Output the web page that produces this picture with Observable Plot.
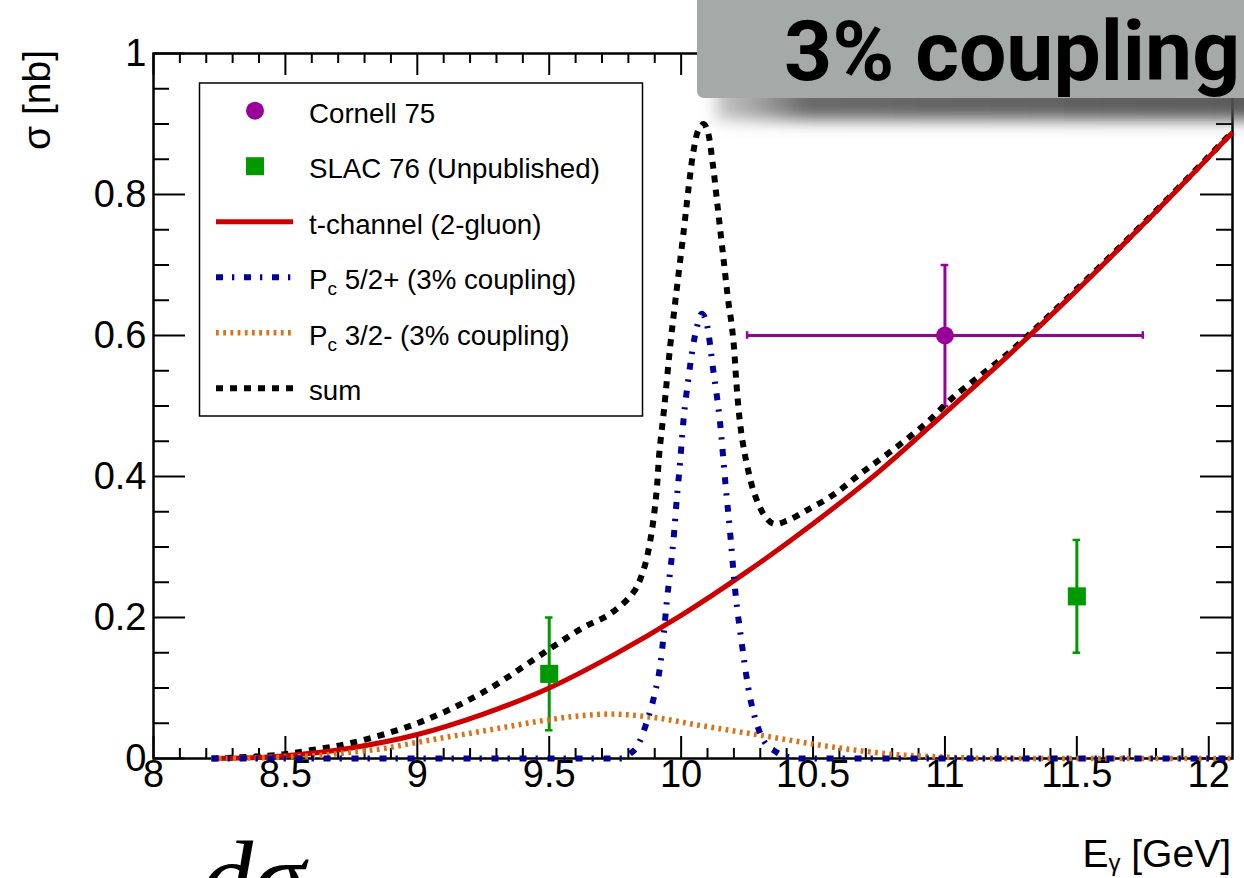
<!DOCTYPE html>
<html>
<head>
<meta charset="utf-8">
<title>Photoproduction cross section near threshold</title>
<script src="https://cdn.jsdelivr.net/npm/d3@7"></script>
<script src="https://cdn.jsdelivr.net/npm/@observablehq/plot@0.6"></script>
<style>
  html, body { margin: 0; padding: 0; background: #fff; overflow: hidden; }
  #wrap { position: relative; width: 1244px; height: 878px; overflow: hidden; }
  #wrap > svg { position: absolute; left: 0; top: 0; }
</style>
</head>
<body>
<div id="wrap"></div>
<script>
// ---- Measurements -------------------------------------------------------
// Cornell 1975
const cornellE = [11.0];
const cornellSigma = [0.60];
const cornellErrE = [0.75];
const cornellErrSigma = [0.10];

// SLAC 1976 (unpublished)
const slacE = [9.5, 11.5];
const slacSigma = [0.12, 0.23];
const slacErrSigma = [0.08, 0.08];

// ---- Model curves (E_gamma in GeV, sigma in nb) --------------------------
// t-channel (2-gluon exchange)
const tChannelE = [8.22, 8.35, 8.5, 8.75, 9.0, 9.25, 9.5, 9.75, 10.0, 10.25, 10.5, 10.75, 11.0, 11.25, 11.5, 11.75, 12.0, 12.09];
const tChannelSigma = [0, 0.001, 0.004, 0.015, 0.034, 0.063, 0.100, 0.148, 0.203, 0.265, 0.333, 0.407, 0.490, 0.575, 0.664, 0.757, 0.853, 0.888];

// Pc 5/2+ resonance, 3% coupling
const pc52E = [8.22, 9.78, 9.807, 9.832, 9.87, 9.90, 9.92, 9.935, 9.946, 9.958, 9.971, 9.984, 9.996, 10.009, 10.028, 10.045, 10.06, 10.078, 10.097, 10.122, 10.148, 10.167, 10.186, 10.205, 10.23, 10.261, 10.287, 10.312, 10.362, 10.42, 10.46, 12.09];
const pc52Sigma = [0, 0, 0.007, 0.016, 0.052, 0.092, 0.13, 0.18, 0.224, 0.264, 0.31, 0.37, 0.42, 0.48, 0.54, 0.585, 0.612, 0.631, 0.617, 0.55, 0.475, 0.394, 0.319, 0.238, 0.163, 0.087, 0.049, 0.026, 0.009, 0.001, 0, 0];

// Pc 3/2- resonance, 3% coupling
const pc32E = [8.22, 8.5, 8.62, 8.75, 8.87, 9.0, 9.25, 9.5, 9.6, 9.73, 9.88, 10.07, 10.3, 10.58, 10.68, 10.8, 11.0, 11.2, 12.09];
const pc32Sigma = [0, 0.002, 0.004, 0.009, 0.014, 0.023, 0.039, 0.055, 0.060, 0.063, 0.059, 0.047, 0.033, 0.016, 0.011, 0.006, 0.002, 0, 0];

// coherent sum
const sumE = [8.22, 8.47, 8.6, 8.75, 9.0, 9.25, 9.5, 9.63, 9.73, 9.82, 9.857, 9.883, 9.906, 9.917, 9.936, 9.958, 9.98, 10.01, 10.03, 10.047, 10.066, 10.085, 10.10, 10.12, 10.14, 10.16, 10.18, 10.19, 10.20, 10.21, 10.222, 10.235, 10.25, 10.274, 10.312, 10.35, 10.40, 10.476, 10.577, 10.68, 10.80, 10.93, 11.03, 11.25, 11.5, 11.75, 12.0, 12.09];
const sumSigma = [0, 0.005, 0.012, 0.022, 0.050, 0.094, 0.155, 0.186, 0.205, 0.236, 0.267, 0.309, 0.375, 0.432, 0.498, 0.583, 0.655, 0.749, 0.815, 0.862, 0.892, 0.900, 0.890, 0.843, 0.777, 0.711, 0.645, 0.62, 0.585, 0.53, 0.48, 0.445, 0.416, 0.38, 0.347, 0.333, 0.337, 0.352, 0.374, 0.404, 0.437, 0.476, 0.512, 0.578, 0.666, 0.758, 0.854, 0.889];

// ---- Axes ----------------------------------------------------------------
const xMajor = [8, 8.5, 9, 9.5, 10, 10.5, 11, 11.5, 12];
const xTickLabels = ["8", "8.5", "9", "9.5", "10", "10.5", "11", "11.5", "12"];
const yMajor = [0, 0.2, 0.4, 0.6, 0.8, 1];
const yTickLabels = ["0", "0.2", "0.4", "0.6", "0.8", "1"];
const xMinor = d3.range(80, 121).map(i => i / 10).filter(v => !xMajor.some(m => Math.abs(m - v) < 1e-9));
const yMinor = d3.range(0, 21).map(i => i / 20).filter(v => !yMajor.some(m => Math.abs(m - v) < 1e-9));

const xTitle = {main: "E", sub: "γ", rest: " [GeV]"};
const yTitle = "σ [nb]";

const legendEntries = [
  {kind: "circle", label: "Cornell 75"},
  {kind: "square", label: "SLAC 76 (Unpublished)"},
  {kind: "tchannel", label: "t-channel (2-gluon)"},
  {kind: "pc52", label: "5/2+ (3% coupling)", pc: true},
  {kind: "pc32", label: "3/2- (3% coupling)", pc: true},
  {kind: "sum", label: "sum"}
];

// ---- Styles --------------------------------------------------------------
const FONT = "'Liberation Sans', Arial, Helvetica, sans-serif";
const colors = {
  cornell: "#990099",
  slac: "#009900",
  tchannel: "#cc0000",
  pc52: "#000099",
  pc32: "#d9731a",
  sum: "#000000"
};
const lineStyle = {
  tchannel: {stroke: colors.tchannel, strokeWidth: 5, strokeDasharray: null, curve: "catmull-rom"},
  pc52: {stroke: colors.pc52, strokeWidth: 6, strokeDasharray: "7,9,2.3,9.7", curve: "monotone-x"},
  pc32: {stroke: colors.pc32, strokeWidth: 5.5, strokeDasharray: "2.8,4.4", curve: "monotone-x"},
  sum: {stroke: colors.sum, strokeWidth: 6, strokeDasharray: "7,7", curve: "catmull-rom"}
};

// ---- Geometry ------------------------------------------------------------
const W = 1244, H = 878;
const margin = {top: 53, right: 12, bottom: 120, left: 153};
const eDomain = [8, 12.09];
const sDomain = [0, 1];
const plotW = W - margin.left - margin.right;
const plotH = H - margin.top - margin.bottom;
const gevPerPx = (eDomain[1] - eDomain[0]) / plotW;
const nbPerPx = (sDomain[1] - sDomain[0]) / plotH;
const capE = 3.8 * gevPerPx;
const capS = 3.8 * nbPerPx;

const rows = (xs, ys) => xs.map((E, i) => ({E, sigma: ys[i]}));
const cornell = cornellE.map((E, i) => ({E, sigma: cornellSigma[i], errE: cornellErrE[i], errS: cornellErrSigma[i]}));
const slac = slacE.map((E, i) => ({E, sigma: slacSigma[i], errS: slacErrSigma[i]}));

const curve = (xs, ys, style) => Plot.line(rows(xs, ys), {
  x: "E", y: "sigma",
  strokeLinecap: "butt", strokeLinejoin: "round", ...style
});

const tickStyle = {stroke: "#000", strokeWidth: 2};

const chart = Plot.plot({
  width: W,
  height: H,
  marginTop: margin.top,
  marginRight: margin.right,
  marginBottom: margin.bottom,
  marginLeft: margin.left,
  style: {background: "white", fontFamily: FONT, overflow: "visible"},
  x: {type: "linear", domain: eDomain, axis: null},
  y: {type: "linear", domain: sDomain, axis: null},
  marks: [
    // inward ticks on all four sides
    Plot.tickX(xMinor, {x: d => d, insetTop: plotH - 10, ...tickStyle}),
    Plot.tickX(xMajor, {x: d => d, insetTop: plotH - 22, ...tickStyle}),
    Plot.tickX(xMinor, {x: d => d, insetBottom: plotH - 10, ...tickStyle}),
    Plot.tickX(xMajor, {x: d => d, insetBottom: plotH - 22, ...tickStyle}),
    Plot.tickY(yMinor, {y: d => d, insetRight: plotW - 16, ...tickStyle}),
    Plot.tickY(yMajor, {y: d => d, insetRight: plotW - 32, ...tickStyle}),
    Plot.tickY(yMinor, {y: d => d, insetLeft: plotW - 16, ...tickStyle}),
    Plot.tickY(yMajor, {y: d => d, insetLeft: plotW - 32, ...tickStyle}),
    Plot.frame({stroke: "#000", strokeWidth: 2.5}),

    // tick labels
    Plot.text(xMajor, {x: d => d, frameAnchor: "bottom", dy: 28, text: (d, i) => xTickLabels[i], fontSize: 38, fill: "#000"}),
    Plot.text(yMajor, {y: d => d, frameAnchor: "left", dx: -7, textAnchor: "end", text: (d, i) => yTickLabels[i], fontSize: 38, fill: "#000"}),

    // SLAC 76 error bars
    Plot.ruleX(slac, {x: "E", y1: d => d.sigma - d.errS, y2: d => d.sigma + d.errS, stroke: colors.slac, strokeWidth: 3}),
    Plot.ruleY(slac, {y: d => d.sigma + d.errS, x1: d => d.E - capE, x2: d => d.E + capE, stroke: colors.slac, strokeWidth: 2.5}),
    Plot.ruleY(slac, {y: d => d.sigma - d.errS, x1: d => d.E - capE, x2: d => d.E + capE, stroke: colors.slac, strokeWidth: 2.5}),

    // Cornell 75 error bars
    Plot.ruleX(cornell, {x: "E", y1: d => d.sigma - d.errS, y2: d => d.sigma + d.errS, stroke: colors.cornell, strokeWidth: 3}),
    Plot.ruleY(cornell, {y: "sigma", x1: d => d.E - d.errE, x2: d => d.E + d.errE, stroke: colors.cornell, strokeWidth: 3}),
    Plot.ruleY(cornell, {y: d => d.sigma + d.errS, x1: d => d.E - capE, x2: d => d.E + capE, stroke: colors.cornell, strokeWidth: 2.5}),
    Plot.ruleY(cornell, {y: d => d.sigma - d.errS, x1: d => d.E - capE, x2: d => d.E + capE, stroke: colors.cornell, strokeWidth: 2.5}),
    Plot.ruleX(cornell, {x: d => d.E - d.errE, y1: d => d.sigma - capS, y2: d => d.sigma + capS, stroke: colors.cornell, strokeWidth: 2.5}),
    Plot.ruleX(cornell, {x: d => d.E + d.errE, y1: d => d.sigma - capS, y2: d => d.sigma + capS, stroke: colors.cornell, strokeWidth: 2.5}),

    // model curves
    curve(sumE, sumSigma, lineStyle.sum),
    curve(tChannelE, tChannelSigma, lineStyle.tchannel),
    curve(pc32E, pc32Sigma, lineStyle.pc32),
    curve(pc52E, pc52Sigma, lineStyle.pc52),

    // markers
    Plot.dot(slac, {x: "E", y: "sigma", symbol: "square", r: 10.2, fill: colors.slac}),
    Plot.dot(cornell, {x: "E", y: "sigma", r: 9, fill: colors.cornell})
  ]
});

const wrap = document.getElementById("wrap");
wrap.appendChild(chart);

// ---- Legend, axis titles and annotation layer ----------------------------
const NS = "http://www.w3.org/2000/svg";
function el(name, attrs, parent, text) {
  const e = document.createElementNS(NS, name);
  for (const [k, v] of Object.entries(attrs)) if (v != null) e.setAttribute(k, v);
  if (text != null) e.textContent = text;
  if (parent) parent.appendChild(e);
  return e;
}
function svgStroke(style) {
  return {
    stroke: style.stroke,
    "stroke-width": style.strokeWidth,
    "stroke-dasharray": style.strokeDasharray,
    "stroke-linecap": "butt",
    fill: "none"
  };
}

const layer = el("svg", {width: W, height: H, viewBox: `0 0 ${W} ${H}`, "font-family": FONT});
layer.style.pointerEvents = "none";

// legend box
const legend = {x: 199.5, y: 83, w: 443, h: 333, rowY0: 110.7, rowStep: 55.5, swatchX1: 216, swatchX2: 293, markerX: 255, textX: 309, fontSize: 27.7};
el("rect", {x: legend.x, y: legend.y, width: legend.w, height: legend.h, fill: "#fff", stroke: "#000", "stroke-width": 1.5}, layer);
legendEntries.forEach((entry, i) => {
  const cy = legend.rowY0 + i * legend.rowStep;
  if (entry.kind === "circle") {
    el("circle", {cx: legend.markerX, cy, r: 9, fill: colors.cornell}, layer);
  } else if (entry.kind === "square") {
    el("rect", {x: legend.markerX - 9, y: cy - 9, width: 18, height: 18, fill: colors.slac}, layer);
  } else {
    el("line", {x1: legend.swatchX1, x2: legend.swatchX2, y1: cy, y2: cy, ...svgStroke(lineStyle[entry.kind])}, layer);
  }
  const t = el("text", {x: legend.textX, y: cy + 11.8, "font-size": legend.fontSize, fill: "#000"}, layer);
  if (entry.pc) {
    el("tspan", {}, t, "P");
    el("tspan", {"font-size": 19, dy: 6}, t, "c");
    el("tspan", {dy: -6, "font-size": legend.fontSize}, t, " " + entry.label);
  } else {
    t.textContent = entry.label;
  }
});

// axis titles
el("text", {transform: "translate(50,50) rotate(-90)", "text-anchor": "end", "font-size": 39, fill: "#000"}, layer, yTitle);
const xt = el("text", {x: 1231, y: 867, "text-anchor": "end", "font-size": 39, fill: "#000"}, layer);
el("tspan", {}, xt, xTitle.main);
el("tspan", {"font-size": 24, dy: 4}, xt, xTitle.sub);
el("tspan", {"font-size": 39, dy: -4}, xt, xTitle.rest);

// start of the formula set below the figure
el("text", {x: 200, y: 914, "font-family": "'Liberation Serif', 'DejaVu Serif', serif", "font-style": "italic", "font-size": 106, fill: "#000"}, layer, "dσ");

// "3% coupling" banner with a soft shadow underneath
const defs = el("defs", {}, layer);
const blur = el("filter", {id: "soft", x: "-10%", y: "-100%", width: "120%", height: "300%"}, defs);
el("feGaussianBlur", {stdDeviation: 8}, blur);
const grad = el("linearGradient", {id: "shade", x1: 0, x2: 1, y1: 0, y2: 0}, defs);
el("stop", {offset: 0, "stop-color": "#a0a0a0", "stop-opacity": 0.6}, grad);
el("stop", {offset: 0.16, "stop-color": "#585858", "stop-opacity": 0.9}, grad);
el("stop", {offset: 1, "stop-color": "#4f4f4f", "stop-opacity": 0.95}, grad);
el("rect", {x: 716, y: 84, width: 560, height: 36, fill: "url(#shade)", filter: "url(#soft)"}, layer);
el("rect", {x: 697, y: -10, width: 570, height: 108, rx: 7, fill: "#a5a9a8"}, layer);
el("text", {x: 784, y: 80, "font-family": "Roboto, 'Noto Sans', sans-serif", "font-weight": 700, "font-size": 84, fill: "#000"}, layer, "3% coupling");

wrap.appendChild(layer);
</script>
</body>
</html>
